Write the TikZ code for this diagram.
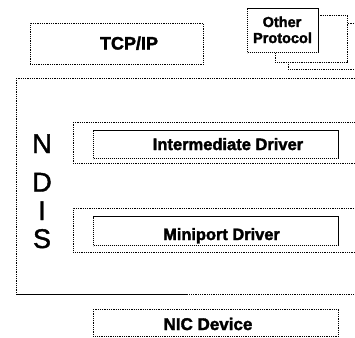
\documentclass[tikz,border=0pt]{standalone}
\usepackage{fontspec}
\setmainfont{Liberation Sans}
\newfontfamily\heavyfont{Liberation Sans Bold}[FakeBold=2]
\newfontfamily\letterfont{Liberation Sans}[FakeBold=1.5]
\begin{document}
\begin{tikzpicture}[x=1pt,y=-1pt,
  box/.style={draw=black, line width=0.85pt, dash pattern=on 1pt off 0.8pt, fill=white, inner sep=0pt, anchor=north west},
  heavybox/.style={box, line width=1.2pt, dash pattern=on 1.4pt off 0.6pt},
  lbl/.style={font=\heavyfont, inner sep=0pt, anchor=base},
  letter/.style={font=\letterfont\fontsize{27}{27}\selectfont, inner sep=0pt, anchor=base}]
\useasboundingbox (0,0) rectangle (355,337);
\clip (0,0) rectangle (355,337);
\fill[white] (0,0) rectangle (355,337);

% TCP/IP
\node[box, minimum width=173pt, minimum height=41pt] (tcp) at (30,23) {};
\node[lbl, font=\heavyfont\fontsize{18}{18}\selectfont] (tcptext) at (129,49.5) {TCP/IP};

% Other protocol stack
\node[box, minimum width=90pt, minimum height=46pt] (proto3) at (288,23) {};
\node[box, minimum width=72pt, minimum height=47pt] (proto2) at (275,15) {};
\node[heavybox, minimum width=71pt, minimum height=44pt] (proto1) at (247,8) {};
\node[lbl, font=\heavyfont\fontsize{14.5}{14.5}\selectfont] (othertext) at (282,27) {Other};
\node[lbl, font=\heavyfont\fontsize{14.5}{14.5}\selectfont] (prototext) at (282.5,43) {Protocol};

% NDIS
\node[box, minimum width=380pt, minimum height=216pt] (ndis) at (16,78) {};
\draw[line width=1pt] (ndis.south west) -- ++(171,0);
\node[letter] (lN) at (42,153) {N};
\node[letter] (lD) at (42,191.5) {D};
\node[letter] (lI) at (42,220) {I};
\node[letter] (lS) at (42,248) {S};

% Intermediate driver layer
\node[box, minimum width=320pt, minimum height=41pt] (interlayer) at (73,122) {};
\node[heavybox, minimum width=245pt, minimum height=28pt] (inter) at (93,130) {};
\node[lbl, font=\heavyfont\fontsize{16.5}{16.5}\selectfont] (intertext) at (228,150) {Intermediate Driver};

% Miniport driver layer
\node[box, minimum width=320pt, minimum height=44pt] (minilayer) at (73,208) {};
\node[heavybox, minimum width=245pt, minimum height=29pt] (mini) at (93,216) {};
\node[lbl, font=\heavyfont\fontsize{16.4}{16.4}\selectfont] (minitext) at (221.5,240) {Miniport Driver};

% NIC device
\node[box, minimum width=245pt, minimum height=27pt] (nic) at (93,309) {};
\node[lbl, font=\heavyfont\fontsize{17}{17}\selectfont] (nictext) at (208,330) {NIC Device};
\end{tikzpicture}
\end{document}
